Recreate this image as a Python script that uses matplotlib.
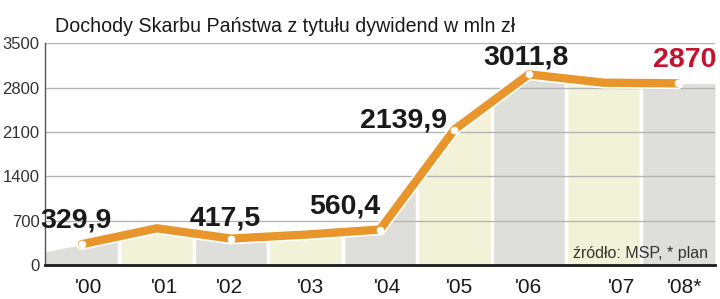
import numpy as np
import matplotlib.pyplot as plt
import matplotlib.patheffects as pe

# Dochody Skarbu Państwa z tytułu dywidend (mln zł)
years = ["'00", "'01", "'02", "'03", "'04", "'05", "'06", "'07", "'08*"]
values = [329.9, 580, 417.5, 480, 560.4, 2139.9, 3011.8, 2880, 2870]
labelled = [0, 2, 4, 5, 6, 8]          # punkty z kropką
value_labels = ['329,9', '417,5', '560,4', '2139,9', '3011,8', '2870']
yticks = [0, 700, 1400, 2100, 2800, 3500]

ORANGE = '#E8962B'
RED = '#C4122F'
GRAY_BAND = '#DEDEDA'
YELLOW_BAND = '#F2F2D8'

plt.rcParams['font.family'] = ['Liberation Sans', 'DejaVu Sans']

fig = plt.figure(figsize=(7.2, 2.99), dpi=100)
ax = fig.add_axes([0.0625, 0.1137, 0.9305, 0.741])

x = np.arange(len(values))
ax.set_xlim(-0.5, len(values) - 0.5)
ax.set_ylim(0, 3500)

# tło - kolumny wypełnione pod linią (końce przedłużone)
xs = np.concatenate([[-0.5], x, [len(values) - 0.5]])
left_end = values[0] - 0.5 * (values[1] - values[0])
right_end = values[-1] + 0.5 * (values[-1] - values[-2])
ys = np.concatenate([[left_end], values, [right_end]])
for i in range(len(values)):
    seg = np.linspace(i - 0.5, i + 0.5, 30)
    top = np.interp(seg, xs, ys)
    col = GRAY_BAND if i % 2 == 0 else YELLOW_BAND
    ax.fill_between(seg, 0, top, color=col, lw=0, zorder=1)
    if i > 0:
        ax.axvline(i - 0.5, color='white', lw=2.5, zorder=1.5)

# siatka
for t in yticks[1:]:
    ax.axhline(t, color='#B4B4B4', lw=1, zorder=2)

# linia
ax.plot(x, values, color=ORANGE, lw=6, solid_joinstyle='round',
        solid_capstyle='round', zorder=4,
        path_effects=[pe.Stroke(linewidth=8.5, foreground='white'), pe.Normal()])
ax.plot(x[labelled], np.array(values)[labelled], 'o', color='white',
        ms=5.5, mec='none', zorder=5)

# etykiety wartości (pozycja x, poziom linii bazowej, wyrównanie)
label_pos = [(-0.08, 600, 'center'), (1.92, 630, 'center'),
             (3.53, 820, 'center'), (4.9, 2180, 'right'),
             (5.96, 3165, 'center'), (8.52, 3120, 'right')]
for (xi, yi, ha), txt in zip(label_pos, value_labels):
    col = RED if txt == '2870' else '#1a1a1a'
    ax.text(xi, yi, txt, fontsize=20.5, fontweight='bold', color=col,
            ha=ha, va='baseline', zorder=6, clip_on=False)

# osie
tick_pos = [0.08, 1.1, 1.98, 3.07, 4.1, 5.07, 5.99, 7.25, 8.09]
ax.set_yticks(yticks)
ax.set_yticklabels([str(t) for t in yticks], fontsize=12, color='#333333')
ax.set_xticks(tick_pos)
ax.set_xticklabels(years, fontsize=15, color='#1a1a1a')
ax.tick_params(axis='both', length=0)
ax.tick_params(axis='y', pad=4)
ax.tick_params(axis='x', pad=9)
for s in ['top', 'right']:
    ax.spines[s].set_visible(False)
ax.spines['left'].set_color('#555555')
ax.spines['left'].set_linewidth(1)
ax.spines['bottom'].set_color('#1a1a1a')
ax.spines['bottom'].set_linewidth(2)
ax.spines['bottom'].set_zorder(7)

fig.text(0.076, 0.912, 'Dochody Skarbu Państwa z tytułu dywidend w mln zł',
         fontsize=14.1, color='#1a1a1a', va='center')
ax.text(8.4, 180, 'źródło: MSP, * plan', fontsize=11.5, color='#333333',
        ha='right', va='center', zorder=6)

fig.savefig('out.png', dpi=100)
